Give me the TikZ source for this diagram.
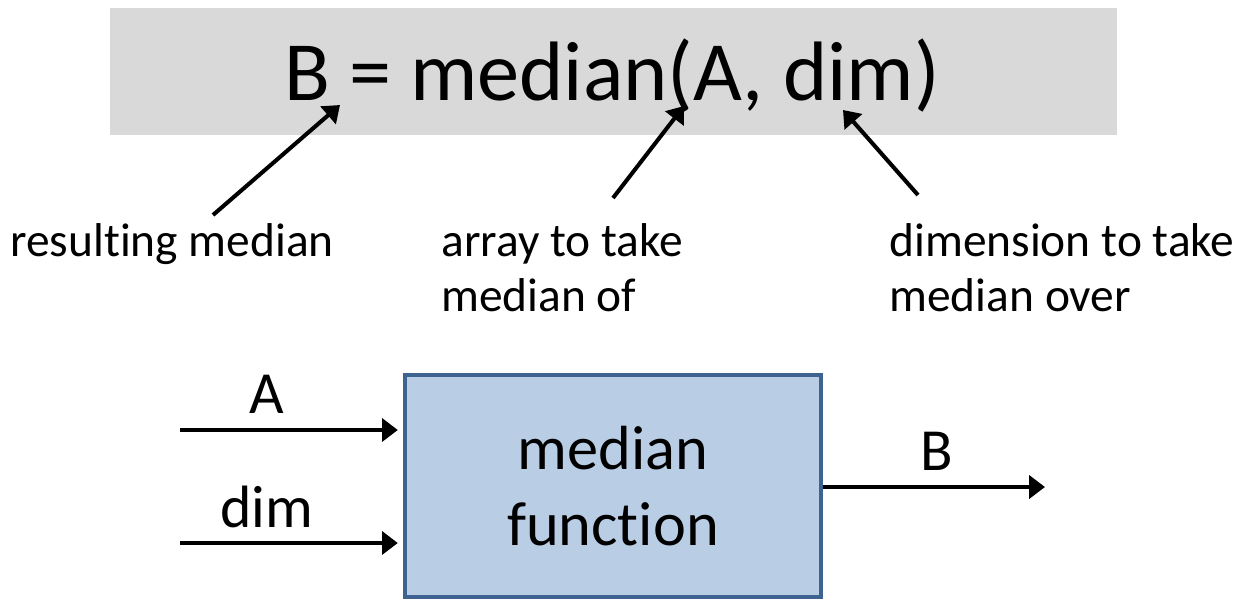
\documentclass[tikz,border=0pt]{standalone}
\usepackage{fontspec}
\setmainfont[Ligatures=NoCommon]{Carlito}
\usetikzlibrary{arrows.meta, positioning, calc}
\definecolor{panel}  {HTML}{D9D9D9}
\definecolor{boxfill}{HTML}{B9CDE5}
\definecolor{boxline}{HTML}{3F6391}

\begin{document}
\begin{tikzpicture}[x=0.02cm, y=-0.02cm,
    arr/.style={line width=2.3pt, -{Triangle[length=9pt, width=13pt]}},
    note/.style={font=\fontsize{27}{31}\selectfont, inner sep=0pt, align=left},
    sig/.style={font=\fontsize{34}{40}\selectfont, inner sep=0pt}]
  \useasboundingbox (0,0) rectangle (1251,600);

  % the call, on its grey strip
  \fill[panel] (110,8) rectangle (1117,135);
  \node[font=\fontsize{48}{56}\selectfont, inner sep=0pt, anchor=base] (call)
    at (612,100) {B = median(A, dim)};

  % what each part of the call is (base = last line)
  \node[note, anchor=base west] (lblres) at (10,256) {resulting median};
  \node[note, anchor=base west] (lblarr) at (441,311) {array to take\\median of};
  \node[note, anchor=base west] (lbldim) at (889,311) {dimension to take\\median over};

  \coordinate (fromres) at (213,215);
  \coordinate (fromarr) at (613,198);
  \coordinate (fromdim) at (918,195);
  \coordinate (atB)   at (340,105);
  \coordinate (atA)   at (684,106);
  \coordinate (atdim) at (843,110);
  \draw[arr] (fromres) -- (atB);
  \draw[arr] (fromarr) -- (atA);
  \draw[arr] (fromdim) -- (atdim);

  % block view
  \node[draw=boxline, fill=boxfill, line width=2.2pt, minimum width=8.32cm,
        minimum height=4.44cm, align=center,
        font=\fontsize{35.5}{43.5}\selectfont] (fn) at (613,486) {median\\function};

  \coordinate (inA)   at (180,430);
  \coordinate (inDim) at (180,543);
  \coordinate (outB)  at (1045,487);
  \draw[arr, shorten >=3pt] (inA) -- (inA -| fn.west);
  \draw[arr, shorten >=3pt] (inDim) -- (inDim -| fn.west);
  \draw[arr] (fn.east |- outB) -- (outB);

  \node[sig, anchor=base] (sigA)   at (267,413) {A};
  \node[sig, anchor=base] (sigdim) at (267,527) {dim};
  \node[sig, anchor=base] (sigB)   at (937,470) {B};
\end{tikzpicture}
\end{document}
